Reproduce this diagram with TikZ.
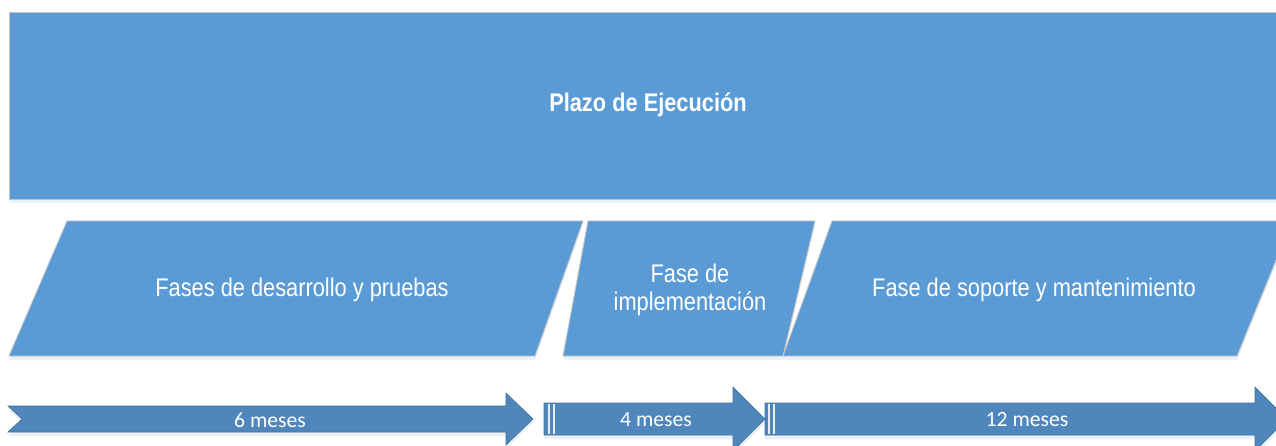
\documentclass[tikz,border=0pt]{standalone}
\usepackage{fontspec}
\setmainfont{Liberation Sans}
\newfontfamily\calib{Carlito}
\usetikzlibrary{shadows}
\definecolor{boxblue}{HTML}{5B9BD5}
\definecolor{arrowblue}{HTML}{4F87BD}
\definecolor{arrowedge}{HTML}{41719C}
\definecolor{boxedge}{HTML}{C0C4C8}
\tikzset{
  phasebox/.style={fill=boxblue, draw=boxedge, line width=0.9pt,
    drop shadow={opacity=0.12, shadow xshift=0pt, shadow yshift=-4pt, fill=boxblue}},
  arrowshape/.style={fill=arrowblue, draw=arrowedge, line width=0.6pt,
    drop shadow={opacity=0.12, shadow xshift=0pt, shadow yshift=-4pt, fill=arrowblue}},
  stripe/.style={draw=white!85!arrowblue, line width=1.6pt},
  boxtext/.style={text=white, font=\fontsize{21.8}{25}\selectfont, align=center, inner sep=0pt},
  arrowtext/.style={text=white, font=\calib\fontsize{21.7}{25}\selectfont, inner sep=0pt},
}
\newcommand{\vstretch}[1]{\scalebox{1}[1.17]{#1}}
\begin{document}
\begin{tikzpicture}[x=1pt,y=-1pt]
\useasboundingbox (0,0) rectangle (1276,446);
\clip (0,0) rectangle (1276,446);
\fill[white] (0,0) rectangle (1276,446);
% top box
\path[phasebox] (9,12) rectangle (1300,199);
\node[boxtext, font=\bfseries\fontsize{21.8}{25}\selectfont] (plazo) at (648,105) {\vstretch{Plazo de Ejecución}};
% phases
\path[phasebox] (67,221) -- (583,221) -- (535,356) -- (9,356) -- cycle;
\path[phasebox] (588,221) -- (815,221) -- (783,356) -- (563,356) -- cycle;
\path[phasebox] (832,221) -- (1292,221) -- (1237,356) -- (783,356) -- cycle;
\node[boxtext] (fase1) at (302,290) {\vstretch{Fases de desarrollo y pruebas}};
\node[boxtext] (fase2a) at (690,273) {\vstretch{Fase de}};
\node[boxtext] (fase2b) at (690,304) {\vstretch{implementación}};
\node[boxtext] (fase3) at (1034,290) {\vstretch{Fase de soporte y mantenimiento}};
% arrows
\path[arrowshape] (8,406) -- (506,406) -- (506,393) -- (533,419) -- (506,445) -- (506,432) -- (8,432) -- (22,419) -- cycle;
\path[arrowshape] (544,403) -- (733,403) -- (733,387) -- (765,419) -- (733,451) -- (733,435) -- (544,435) -- cycle;
\draw[stripe] (549,403.8) -- (549,434.2);
\draw[stripe] (554,403.8) -- (554,434.2);
\path[arrowshape] (765,403) -- (1255,403) -- (1255,387) -- (1287,419) -- (1255,451) -- (1255,435) -- (765,435) -- cycle;
\draw[stripe] (769,403.8) -- (769,434.2);
\draw[stripe] (774,403.8) -- (774,434.2);
\node[arrowtext] (m6) at (270,420) {6 meses};
\node[arrowtext] (m4) at (656,420) {4 meses};
\node[arrowtext] (m12) at (1027,420) {12 meses};
\end{tikzpicture}
\end{document}
